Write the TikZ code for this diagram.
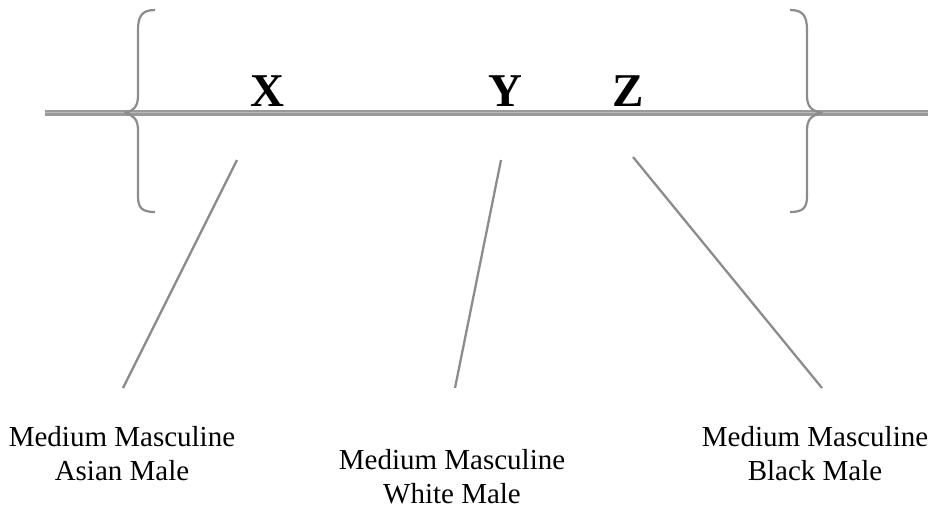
\documentclass[tikz,border=0pt]{standalone}
\usepackage{fontspec}
\setmainfont{Liberation Serif}
\begin{document}
\begin{tikzpicture}[x=1pt,y=-1pt,
  axis/.style={line width=6pt,draw=gray!80},
  brace/.style={line width=2.2pt,draw=gray!90,line join=round},
  leader/.style={line width=2.3pt,draw=gray!90},
  letter/.style={font=\bfseries\fontsize{47}{47}\selectfont,anchor=base},
  caption/.style={font=\fontsize{29}{34}\selectfont,align=center,anchor=north}]
\useasboundingbox (0,0) rectangle (928,515);
\coordinate (a0) at (45,113);
\coordinate (a1) at (928,113);
\draw[axis] (a0) -- (a1);
\draw[line width=1.2pt,draw=gray!55] (45,112.5) -- (928,112.5);
% braces
\draw[brace] (155,10) .. controls (142,10) and (138,16) .. (138,30) -- (138,96)
  .. controls (138,107) and (133,111) .. (125,113)
  .. controls (133,115) and (138,119) .. (138,130) -- (138,196)
  .. controls (138,208) and (142,212) .. (155,212);
\draw[brace] (790,10) .. controls (803,10) and (807,16) .. (807,30) -- (807,96)
  .. controls (807,107) and (812,111) .. (822,113)
  .. controls (812,115) and (807,119) .. (807,130) -- (807,196)
  .. controls (807,208) and (803,212) .. (790,212);
% letters
\node[letter] (X) at (267,106) {X};
\node[letter] (Y) at (505,106) {Y};
\node[letter] (Z) at (628,106) {Z};
% captions
\node[caption] (cA) at (122,423) {Medium Masculine\\Asian Male};
\node[caption] (cW) at (452,446) {Medium Masculine\\White Male};
\node[caption] (cB) at (815,423) {Medium Masculine\\Black Male};
% leaders
\coordinate (l1a) at (237,160); \coordinate (l1b) at (123,388);
\coordinate (l2a) at (501,160); \coordinate (l2b) at (455,388);
\coordinate (l3a) at (633,157); \coordinate (l3b) at (822,388);
\draw[leader] (l1a) -- (l1b);
\draw[leader] (l2a) -- (l2b);
\draw[leader] (l3a) -- (l3b);
\end{tikzpicture}
\end{document}
